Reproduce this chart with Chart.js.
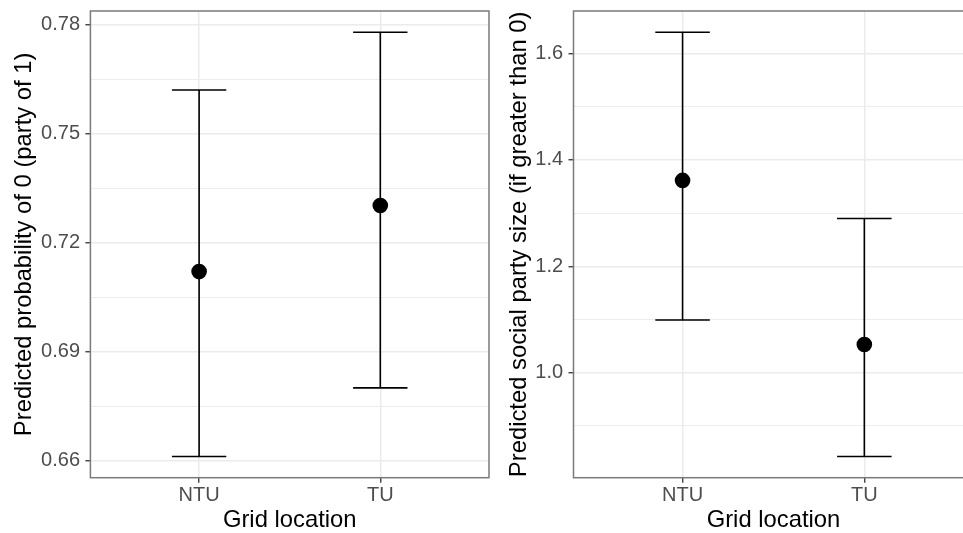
<!DOCTYPE html>
<html>
<head>
<meta charset="utf-8">
<script src="https://cdn.jsdelivr.net/npm/chart.js@4.4.1/dist/chart.umd.min.js"></script>
<style>
  html, body { margin: 0; padding: 0; background: #fff; overflow: hidden; width: 963px; height: 533px; }
  canvas { position: absolute; top: 0; }
  #chartProb { left: 0; }
  #chartSize { left: 490px; }
</style>
</head>
<body>
<canvas id="chartProb" width="491" height="533"></canvas>
<canvas id="chartSize" width="490" height="533"></canvas>
<script>
// categories on the x axis
const categories = ['NTU', 'TU'];

// left panel: predicted probability of 0, with lower / upper bounds
const probEst = [0.7121, 0.7303];
const probLower = [0.6612, 0.6801];
const probUpper = [0.7621, 0.7780];
const probTicks = [0.66, 0.69, 0.72, 0.75, 0.78];

// right panel: predicted social party size, with lower / upper bounds
const sizeEst = [1.3615, 1.0530];
const sizeLower = [1.0990, 0.8426];
const sizeUpper = [1.6400, 1.2900];
const sizeTicks = [1.0, 1.2, 1.4, 1.6];

const FONT = 'Liberation Sans, Arial, sans-serif';
const CAP_HALF = 0.15; // half width of the error bar caps (x units)

// y limits like ggplot: data range + 5% each side
function limits(lo, hi) {
  const a = Math.min(...lo), b = Math.max(...hi);
  const pad = (b - a) * 0.05;
  return [a - pad, b + pad];
}

// major ticks plus minor breaks half way between them
function withMinor(ticks, min, max) {
  const step = ticks[1] - ticks[0];
  const all = [];
  for (let i = -1; i < ticks.length; i++) {
    const base = i < 0 ? ticks[0] - step : ticks[i];
    if (i >= 0) all.push({ value: base, major: true });
    const mid = +(base + step / 2).toFixed(6);
    if (mid > min && mid < max) all.push({ value: mid, major: false });
  }
  return all.sort((p, q) => p.value - q.value);
}

const errorBars = {
  id: 'errorBars',
  beforeDatasetsDraw(chart, args, opts) {
    const ctx = chart.ctx, xs = chart.scales.x, ys = chart.scales.y;
    ctx.save();
    ctx.strokeStyle = '#000';
    ctx.lineWidth = 1.6;
    opts.lower.forEach(function (lo, i) {
      const x = xs.getPixelForValue(i + 1);
      const x0 = xs.getPixelForValue(i + 1 - CAP_HALF);
      const x1 = xs.getPixelForValue(i + 1 + CAP_HALF);
      const yl = ys.getPixelForValue(lo);
      const yu = ys.getPixelForValue(opts.upper[i]);
      ctx.beginPath();
      ctx.moveTo(x, yl); ctx.lineTo(x, yu);
      ctx.moveTo(x0, yl); ctx.lineTo(x1, yl);
      ctx.moveTo(x0, yu); ctx.lineTo(x1, yu);
      ctx.stroke();
    });
    ctx.restore();
  }
};

const panelBorder = {
  id: 'panelBorder',
  afterDatasetsDraw(chart) {
    const a = chart.chartArea, ctx = chart.ctx;
    ctx.save();
    ctx.strokeStyle = '#7a7a7a';
    ctx.lineWidth = 1.5;
    ctx.strokeRect(a.left, a.top, a.right - a.left, a.bottom - a.top);
    ctx.restore();
  }
};

// no extra room for overhanging tick labels, the panel sits where layout padding says
function noOverhang(axis) {
  axis.paddingTop = 0;
  axis.paddingBottom = 0;
  axis.paddingLeft = 0;
  axis.paddingRight = 0;
}

function makePanel(id, est, lower, upper, ticks, yTitle, opt) {
  const [ymin, ymax] = limits(lower, upper);
  const yTicks = withMinor(ticks, ymin, ymax);
  const isMajor = (ctx) => yTicks[ctx.index] && yTicks[ctx.index].major;

  const config = {
    type: 'scatter',
    data: {
      datasets: [{
        data: est.map((v, i) => ({ x: i + 1, y: v })),
        backgroundColor: '#000',
        borderWidth: 0,
        pointRadius: 7.8,
        pointHoverRadius: 7.8
      }]
    },
    options: {
      responsive: false,
      animation: false,
      events: [],
      layout: {
        autoPadding: false,
        padding: { top: 11, right: opt.padRight, left: 0, bottom: 0 }
      },
      plugins: {
        legend: { display: false },
        tooltip: { enabled: false },
        errorBars: { lower: lower, upper: upper }
      },
      scales: {
        x: {
          type: 'linear',
          min: 0.4,
          max: 2.6,
          afterBuildTicks: (axis) => { axis.ticks = categories.map((c, i) => ({ value: i + 1 })); },
          afterFit: (axis) => { axis.height = 55.3; noOverhang(axis); },
          border: { display: false },
          grid: { color: '#EBEBEB', lineWidth: 1.5, tickLength: 5, tickColor: '#333', tickWidth: 1.3 },
          ticks: {
            autoSkip: false,
            maxRotation: 0,
            padding: 0.5,
            color: '#4D4D4D',
            font: { family: FONT, size: 20, lineHeight: 1.2 },
            callback: (v) => categories[Math.round(v) - 1]
          },
          title: {
            display: true,
            text: 'Grid location',
            color: '#000',
            font: { family: FONT, size: 23.8, lineHeight: 1 },
            padding: { top: 0, bottom: 0.7 }
          }
        },
        y: {
          type: 'linear',
          min: ymin,
          max: ymax,
          afterBuildTicks: (axis) => { axis.ticks = yTicks.map((t) => ({ value: t.value })); },
          afterFit: (axis) => { axis.width = opt.yWidth; noOverhang(axis); },
          border: { display: false },
          grid: {
            color: '#EBEBEB',
            lineWidth: (ctx) => isMajor(ctx) ? 1.5 : 0.9,
            tickLength: 5,
            tickColor: (ctx) => isMajor(ctx) ? '#333' : 'rgba(0,0,0,0)',
            tickWidth: 1.3
          },
          ticks: {
            autoSkip: false,
            padding: 5.4,
            color: '#4D4D4D',
            font: { family: FONT, size: 20 },
            callback: (v, i) => yTicks[i].major ? opt.fmt(v) : ''
          },
          title: {
            display: true,
            text: yTitle,
            color: '#000',
            font: { family: FONT, size: 23.8, lineHeight: 1 },
            padding: { top: opt.titlePad, bottom: 0 }
          }
        }
      }
    },
    plugins: [errorBars, panelBorder]
  };
  return new Chart(document.getElementById(id), config);
}

makePanel('chartProb', probEst, probLower, probUpper, probTicks,
  'Predicted probability of 0 (party of 1)',
  { yWidth: 90.4, padRight: 2, titlePad: 12.1, fmt: (v) => v.toFixed(2) });

makePanel('chartSize', sizeEst, sizeLower, sizeUpper, sizeTicks,
  'Predicted social party size (if greater than 0)',
  { yWidth: 83.5, padRight: 6.6, titlePad: 17.1, fmt: (v) => v.toFixed(1) });
</script>
</body>
</html>
